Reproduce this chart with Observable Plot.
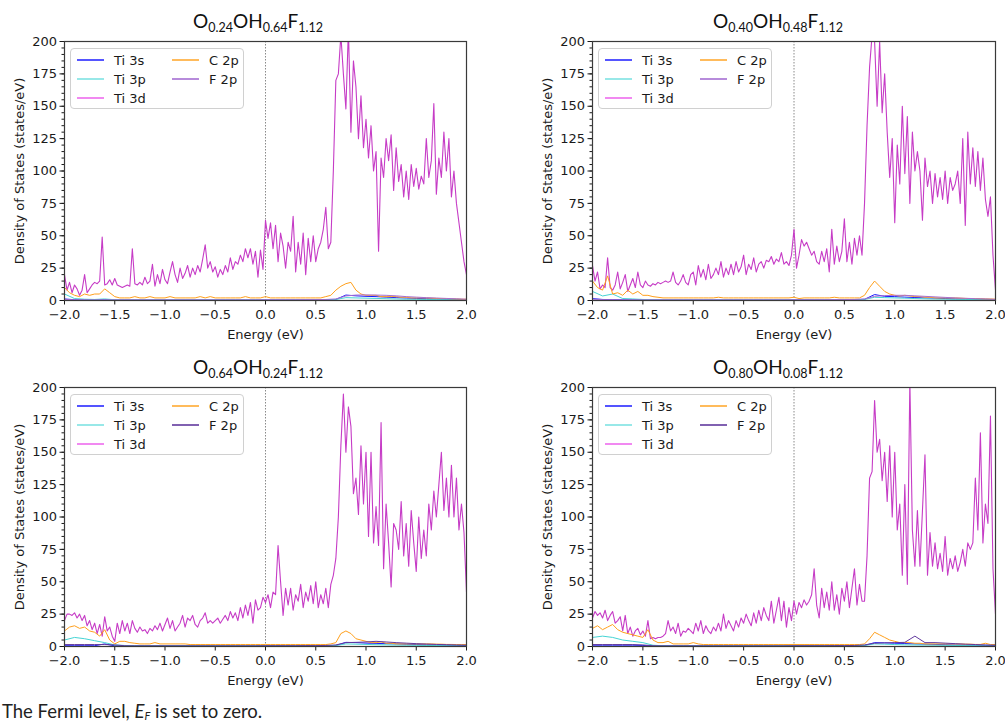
<!DOCTYPE html>
<html>
<head>
<meta charset="utf-8">
<script src="https://cdn.jsdelivr.net/npm/d3@7"></script>
<script src="https://cdn.jsdelivr.net/npm/@observablehq/plot@0.6"></script>
<style>
  html, body { margin: 0; padding: 0; background: #fff; overflow: hidden; }
  #page { position: relative; width: 1005px; height: 724px; }
  .panel { position: absolute; }
  .title { position: absolute; transform: translateX(-50%); font-family: Lato, "Open Sans", sans-serif; font-size: 19px; color: #111; white-space: nowrap; }
  .title sub { font-size: 12.5px; vertical-align: -4px; line-height: 0; }
  .legend { position: absolute; width: 172px; height: 59px; border: 1px solid #d0d0d0; border-radius: 4px; background: rgba(255,255,255,0.85); }
  .caption { position: absolute; left: 2px; top: 700px; font-family: Lato, "Open Sans", sans-serif; font-size: 18.5px; color: #222; }
  .caption sub { font-size: 11px; vertical-align: -2px; line-height: 0; }
</style>
</head>
<body>
<div id="page"></div>
<script>
// ---------- data ----------
const seriesNames = ["Ti 3s", "Ti 3p", "Ti 3d", "C 2p", "F 2p"];
const titles = [
  ["O", "0.24", "OH", "0.64", "F", "1.12"],
  ["O", "0.40", "OH", "0.48", "F", "1.12"],
  ["O", "0.64", "OH", "0.24", "F", "1.12"],
  ["O", "0.80", "OH", "0.08", "F", "1.12"]
];
const xTicks = [-2.0, -1.5, -1.0, -0.5, 0.0, 0.5, 1.0, 1.5, 2.0];
const yTicks = [0, 25, 50, 75, 100, 125, 150, 175, 200];
const yMinorTicks = d3.range(0, 201, 5);
const fermiLevel = [0];

// Ti 3d: E = -2.0 .. 2.0, step 0.025
const p1_ti3d = [20,8,14,6,12,9,4,8,20,6, 9,12,14,13,15,49,12,13,16,12, 17,12,11,10,11,12,11,40,13,12,
  14,12,18,13,15,28,11,20,13,24, 16,13,22,30,20,14,25,17,21,27, 18,25,20,27,22,32,43,25,30,22,
  26,18,24,20,27,22,33,24,30,28, 35,30,40,33,40,28,38,18,39,24, 62,48,60,40,58,30,52,42,25,45,
  38,65,22,45,28,52,20,48,30,50, 30,40,45,55,72,40,45,100,170,175, 205,175,148,210,130,185,165,125,158,118,
  140,110,135,100,115,38,110,95,125,108, 128,85,118,92,105,80,100,78,105,88, 102,86,96,90,125,95,108,152,82,110,
  95,130,100,125,80,100,75,60,45,30, 20];
const p2_ti3d = [27,15,22,9,12,10,33,10,8,12, 22,9,14,20,7,12,17,10,22,12, 10,15,12,11,13,12,14,13,14,15,
  14,15,22,14,12,15,20,14,12,20, 22,12,27,18,24,16,28,17,20,25, 20,30,18,25,20,28,20,30,22,26,
  35,20,28,24,33,22,28,30,25,31, 30,34,28,32,30,37,28,30,27,35, 55,25,35,47,42,45,40,35,38,30,
  28,38,30,40,22,55,28,42,30,38, 63,30,45,28,48,35,50,35,75,135, 180,205,200,150,200,145,175,130,95,125,
  60,120,90,150,98,142,75,130,100,115, 100,62,110,88,100,75,98,80,95,78, 100,75,95,85,90,100,75,125,58,130,
  90,118,88,115,85,110,78,65,80,35, 8];
const p3_ti3d = [20,25,25,24,26,22,25,20,24,16, 20,13,18,10,17,8,23,12,15,8, 4,18,10,20,12,18,10,20,14,11,
  15,12,13,10,14,12,16,13,18,12, 17,22,14,20,12,15,18,24,15,22, 20,24,17,15,20,22,26,18,20,18,
  20,22,18,21,24,20,27,22,26,20, 30,22,32,24,34,18,36,28,30,38, 34,40,30,42,40,78,50,24,45,32,
  45,28,40,35,48,30,42,35,47,33, 50,30,40,33,45,30,48,55,68,100, 155,195,150,185,170,118,130,102,155,110,
  150,85,150,80,108,78,173,60,110,80, 46,95,90,75,112,70,95,62,105,80, 58,100,68,90,70,110,90,120,100,125,
  150,105,130,100,140,100,130,90,110,88, 42];
const p4_ti3d = [22,27,24,26,22,28,20,24,27,18, 20,23,12,24,10,15,8,12,14,9, 12,8,20,6,7,6,7,7,8,10,
  20,12,15,10,18,8,12,11,14,12, 10,18,12,20,10,16,12,10,15,12, 18,12,25,14,20,16,12,20,15,22,
  18,25,20,16,26,18,28,20,30,24, 20,35,18,28,38,20,35,15,30,20, 35,25,34,30,36,32,35,40,60,32,
  22,45,30,42,28,50,28,40,25,45, 35,50,30,45,60,32,48,35,35,70, 130,135,190,150,160,128,150,112,155,100,
  150,90,110,55,125,48,205,90,62,105, 62,105,148,55,88,62,80,60,72,58, 85,55,68,60,70,58,65,75,62,80,
  75,80,130,90,165,80,110,95,178,60, 25];

// C 2p: E = -2.0 .. 2.0, step 0.05
const p1_c2p = [10,6,4,3,5,4,5,5,9,6, 3,2,2,2,3,2,2,3,2,2, 2,3,2,2,2,2,2,3,2,3, 2,2,2,2,2,2,3,2,2,2,
  3,2,2,2,2,2,2,2,2,2, 2,2,3,4,8,11,13,14,8,5, 4,4,4,3,3,3,3,2.5,2.5,2, 2,2,2,1.8,1.6,1.5,1.5,1.3,1.2,1, 1];
const p2_c2p = [15,10,8,19,5,6,4,8,5,7, 4,4,3,2.5,2,2,2,2,2,2, 2,2,2,2,2,2.5,2,2,2,2, 2,2,2,2,2,2,2,2,2,2,
  2.5,1.5,2,2,2,2,2,2,2.5,2, 2,2,2,2,4,10,15,11,7,5, 4,3.5,4,3.5,3,3,2.5,2.5,2,2, 2,2,2,1.8,1.6,1.5,1.5,1.4,1.2,1.2, 1];
const p3_c2p = [12,15,16,14,15,12,11,8,13,5, 2,4,4,3,2.5,2,2,2,3,2, 2,2,2,2,2,1.5,1.5,1.5,1.5,1.5, 1.5,1.5,1.5,1.5,1.5,1.5,1.5,1.5,1.5,1.5,
  1.5,1.5,1.5,1.5,1.5,1.5,1.5,1.5,1.5,1.5, 1.5,1.5,1.5,2,3,10,12,10,6,5, 4,3,3,3.5,2.5,2.5,2,2,2,2, 2,2,2,2,1.8,1.8,1.6,1.6,1.5,1.5, 1.5];
const p4_c2p = [14,16,13,15,17,13,11,10,9,8, 7,13,5,3,3,4,2,2,2,2, 3,2,1.5,1.5,1.5,1.5,1.5,1.5,1.5,1.5, 1.5,1.5,1.5,1.5,1.5,1.5,1.5,1.5,1.5,1.5,
  1.5,1.5,1.5,1.5,1.5,1.5,1.5,1.5,1.5,1.5, 1.5,1.5,1.5,1.5,2,6,11,9,7,5, 4,3,3,3,2.5,2.5,2,2,2,2, 2,2,2,2,1.8,1.8,1.6,1.6,2.5,1.5, 1.5];

// Ti 3s, Ti 3p, F 2p: E = -2.0 .. 2.0, step 0.1
const p1_ti3s = [1.2,0.6,0.5,0.5,0.6,0.4,0.4,0.4,0.4,0.4, 0.4,0.4,0.4,0.4,0.4,0.4,0.4,0.4,0.4,0.4, 0.5,0.5,0.5,0.5,0.5,0.5,0.6,0.8,4.2,3.6, 3.2,3.0,2.6,2.2,1.9,1.6,1.4,1.2,1.0,0.9, 0.7];
const p1_ti3p = [5,1.5,1,0.8,1.2,0.6,0.5,0.5,0.5,0.5, 0.5,0.5,0.5,0.5,0.5,0.5,0.5,0.5,0.5,0.5, 0.5,0.5,0.5,0.5,0.5,0.5,0.6,0.8,2.2,2.0, 1.8,1.6,1.4,1.2,1.0,0.9,0.8,0.7,0.6,0.5, 0.4];
const p1_f2p = [0.8,0.6,0.5,0.5,0.5,0.5,0.5,0.5,0.5,0.5, 0.5,0.5,0.5,0.5,0.5,0.5,0.5,0.5,0.5,0.5, 0.6,0.6,0.6,0.6,0.7,0.7,0.8,1.2,3.5,4.2, 4.3,4.2,4.0,3.6,3.0,2.6,2.2,1.9,1.6,1.3, 1.0];
const p2_ti3s = [1.5,0.8,0.6,0.5,0.5,0.5,0.4,0.4,0.4,0.4, 0.4,0.4,0.4,0.4,0.4,0.4,0.4,0.4,0.4,0.4, 0.5,0.5,0.5,0.5,0.5,0.5,0.6,0.9,4.6,3.2, 3.0,2.6,2.3,2.0,1.8,1.5,1.3,1.2,1.0,0.9, 0.6];
const p2_ti3p = [7,3.5,5,1.5,1.2,0.8,0.6,0.5,0.5,0.5, 0.5,0.5,0.5,0.5,0.5,0.5,0.5,0.5,0.5,0.5, 0.5,0.5,0.5,0.5,0.5,0.5,0.6,0.8,2.5,2.2, 2.0,1.8,1.5,1.3,1.1,1.0,0.9,0.8,0.7,0.6, 0.5];
const p2_f2p = [1,0.7,0.6,0.5,0.5,0.5,0.5,0.5,0.5,0.5, 0.5,0.5,0.5,0.5,0.5,0.5,0.5,0.5,0.5,0.5, 0.6,0.6,0.6,0.6,0.7,0.7,0.8,1.2,3.2,3.8, 4.0,4.0,3.6,3.2,2.8,2.4,2.0,1.7,1.4,1.2, 0.9];
const p3_ti3s = [0.6,0.6,0.6,0.6,2,0.5,0.4,0.4,0.4,0.4, 0.4,0.4,0.4,0.4,0.4,0.4,0.4,0.4,0.4,0.4, 0.5,0.5,0.5,0.5,0.5,0.5,0.6,0.8,3.2,3.0, 2.6,2.4,2.2,2.0,1.7,1.5,1.3,1.2,1.0,0.9, 0.7];
const p3_ti3p = [5,7,6,4.5,3,1.2,0.8,0.6,0.5,0.5, 0.5,0.5,0.5,0.5,0.5,0.5,0.5,0.5,0.5,0.5, 0.5,0.5,0.5,0.5,0.5,0.5,0.6,0.8,2.0,1.8, 1.6,1.4,1.3,1.1,1.0,0.9,0.8,0.7,0.6,0.5, 0.4];
const p3_f2p = [1.5,1.5,1.5,1.5,1.5,1.2,0.6,0.5,0.5,0.5, 0.5,0.5,0.5,0.5,0.5,0.5,0.5,0.5,0.5,0.5, 0.6,0.6,0.6,0.6,0.7,0.7,0.8,1.2,3.0,3.2, 3.5,4.0,3.5,3.0,2.6,2.2,1.9,1.6,1.4,1.2, 1.0];
const p4_ti3s = [1,1,1,1,1,0.8,0.4,0.4,0.4,0.4, 0.4,0.4,0.4,0.4,0.4,0.4,0.4,0.4,0.4,0.4, 0.5,0.5,0.5,0.5,0.5,0.5,0.6,0.8,3.0,2.8, 2.5,2.3,2.0,1.8,1.6,1.4,1.2,1.1,1.0,0.9, 0.7];
const p4_ti3p = [7,8,7,5,4,3,1,0.6,0.5,0.5, 0.5,0.5,0.5,0.5,0.5,0.5,0.5,0.5,0.5,0.5, 0.5,0.5,0.5,0.5,0.5,0.5,0.6,0.8,2.0,1.8, 1.5,1.3,1.2,1.1,1.0,0.9,0.8,0.7,0.6,0.5, 0.4];
const p4_f2p = [1.5,1.5,1.5,1.5,1.5,1.2,0.6,0.5,0.5,0.5, 0.5,0.5,0.5,0.5,0.5,0.5,0.5,0.5,0.5,0.5, 0.6,0.6,0.6,0.6,0.7,0.7,0.8,1.2,2.5,2.8, 3.0,3.2,8,3.0,3.0,2.6,2.2,1.8,1.5,1.2, 1.0];

const stepFine = 0.025, stepMid = 0.05, stepCoarse = 0.1;

// ---------- styles ----------
const colors = {"Ti 3s": "#1a1aff", "Ti 3p": "#45d4d4", "Ti 3d": "#c63cc6", "C 2p": "#ffa01c"};
const f2pColors = ["#a66fd2", "#a66fd2", "#623a9e", "#623a9e"];
const legendSwatch = {"Ti 3s": "#2a2aff", "Ti 3p": "#7fe3e3", "Ti 3d": "#ee6cee", "C 2p": "#ffaa33"};

const panels = [
  {left: 0,   top: 0,   width: 480, mr: 14, data: [p1_ti3s, p1_ti3p, p1_ti3d, p1_c2p, p1_f2p], titleX: 258, titleY: 9},
  {left: 528, top: 0,   width: 477, mr: 10, data: [p2_ti3s, p2_ti3p, p2_ti3d, p2_c2p, p2_f2p], titleX: 778, titleY: 9},
  {left: 0,   top: 346, width: 480, mr: 14, data: [p3_ti3s, p3_ti3p, p3_ti3d, p3_c2p, p3_f2p], titleX: 258, titleY: 355},
  {left: 528, top: 346, width: 477, mr: 10, data: [p4_ti3s, p4_ti3p, p4_ti3d, p4_c2p, p4_f2p], titleX: 778, titleY: 355}
];
const steps = [stepCoarse, stepCoarse, stepFine, stepMid, stepCoarse];

function rows(vals, step) { return vals.map((v, i) => ({E: -2 + i * step, dos: v})); }

const page = document.getElementById("page");
const fmt = d3.format(".1f");

panels.forEach((p, k) => {
  const lineMarks = seriesNames.map((name, j) =>
    Plot.line(rows(p.data[j], steps[j]), {
      x: "E", y: "dos",
      stroke: name === "F 2p" ? f2pColors[k] : colors[name],
      strokeWidth: name === "Ti 3d" ? 1.1 : 1,
      clip: true
    })
  );
  const chart = Plot.plot({
    width: p.width, height: 342,
    marginLeft: 64, marginRight: p.mr, marginTop: 41, marginBottom: 42,
    style: {fontFamily: "'DejaVu Sans', sans-serif", fontSize: "13px", color: "#1a1a1a", background: "transparent", overflow: "visible"},
    x: {domain: [-2, 2]},
    y: {domain: [0, 200]},
    marks: [
      Plot.axisY({ticks: yMinorTicks, tickSize: 2.5, tickFormat: () => "", label: null}),
      Plot.axisY({ticks: yTicks, tickSize: 4.5, tickPadding: 3, fontSize: 13, label: "Density of States (states/eV)",
        labelAnchor: "center", labelArrow: "none", labelOffset: 50}),
      Plot.axisX({ticks: xTicks, tickSize: 4.5, tickPadding: 5, fontSize: 13, tickFormat: fmt, label: "Energy (eV)",
        labelAnchor: "center", labelArrow: "none", labelOffset: 38}),
      Plot.ruleX(fermiLevel, {stroke: "#8a8a8a", strokeWidth: 1, strokeDasharray: "1.5,1.5"}),
      ...lineMarks,
      Plot.frame({stroke: "#3a3a3a", strokeWidth: 1.2})
    ]
  });
  const wrap = document.createElement("div");
  wrap.className = "panel";
  wrap.style.left = p.left + "px";
  wrap.style.top = p.top + "px";
  wrap.appendChild(chart);
  page.appendChild(wrap);

  // title
  const t = titles[k];
  const title = document.createElement("div");
  title.className = "title";
  title.style.left = p.titleX + "px";
  title.style.top = p.titleY + "px";
  title.innerHTML = `${t[0]}<sub>${t[1]}</sub>${t[2]}<sub>${t[3]}</sub>${t[4]}<sub>${t[5]}</sub>`;
  page.appendChild(title);

  // legend
  const leg = document.createElement("div");
  leg.className = "legend";
  leg.style.left = (p.left + 64 + 6) + "px";
  leg.style.top = (p.top + 41 + 7) + "px";
  const cols = [[0, 1, 2], [3, 4]];
  let svg = `<svg width="172" height="59" style="position:absolute;left:0;top:0;font-family:'DejaVu Sans',sans-serif;font-size:13px">`;
  cols.forEach((col, c) => {
    col.forEach((j, r) => {
      const name = seriesNames[j];
      const x0 = c === 0 ? 6 : 101;
      const y = 11 + r * 19;
      const col2 = name === "F 2p" ? f2pColors[k] : legendSwatch[name];
      svg += `<line x1="${x0}" x2="${x0 + 27}" y1="${y}" y2="${y}" stroke="${col2}" stroke-width="1.6"/>`;
      svg += `<text x="${x0 + 37}" y="${y}" dy="0.35em" fill="#1a1a1a">${name}</text>`;
    });
  });
  svg += `</svg>`;
  leg.innerHTML = svg;
  page.appendChild(leg);
});

const cap = document.createElement("div");
cap.className = "caption";
cap.innerHTML = `The Fermi level, <i>E<sub>F</sub></i> is set to zero.`;
page.appendChild(cap);
</script>
</body>
</html>
